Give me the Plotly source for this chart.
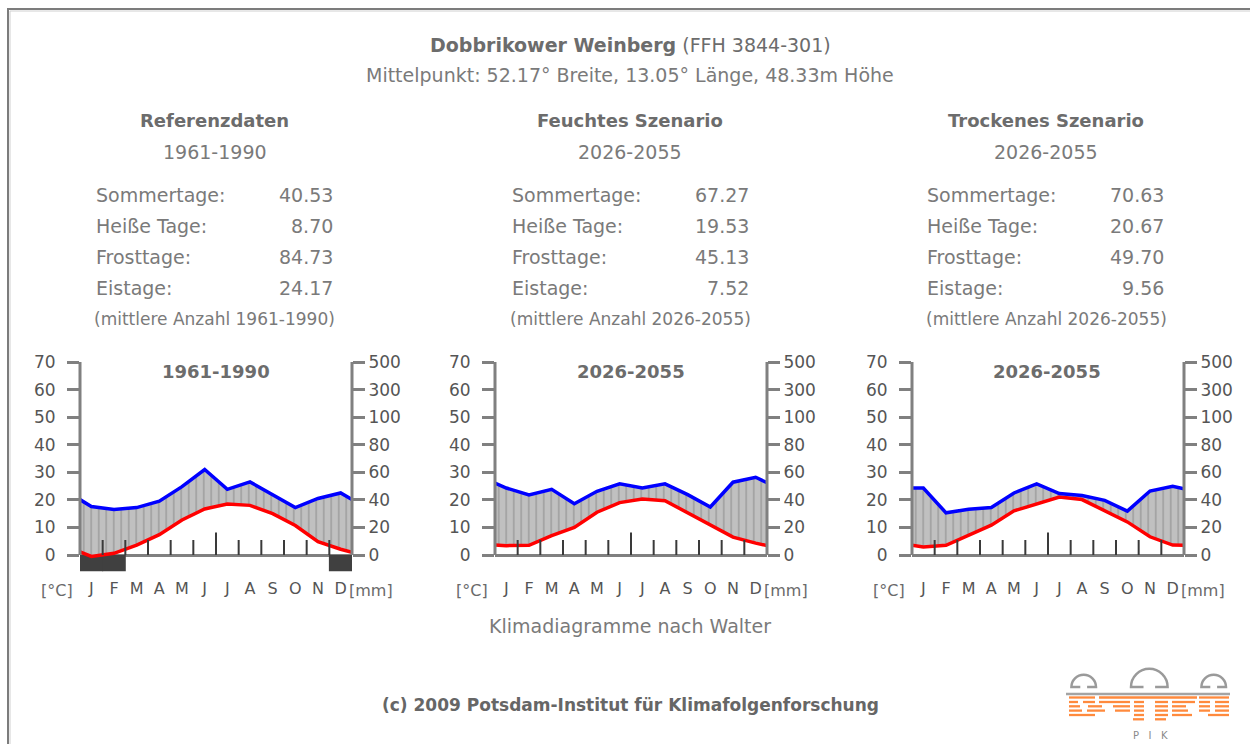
import plotly.graph_objects as go

W, H = 1250, 744
FONT = "DejaVu Sans"
GRAY_TXT = "#7a7a7a"
GRAY_BOLD = "#6c6c6c"
AXIS_GRAY = "#808080"

# ---- data -------------------------------------------------------------
MONTHS = ["J", "F", "M", "A", "M", "J", "J", "A", "S", "O", "N", "D"]
# curve points: left edge, middle of each month, right edge
X_PTS = [0, 0.5, 1.5, 2.5, 3.5, 4.5, 5.5, 6.5, 7.5, 8.5, 9.5, 10.5, 11.5, 12]

temp_ref = [1.1, -0.5, 0.6, 3.6, 7.4, 12.7, 16.7, 18.5, 18.0, 15.0, 10.7, 4.8, 2.1, 1.0]
prec_ref = [40.2, 35.2, 33.0, 34.4, 39.0, 49.6, 62.0, 47.6, 53.0, 43.8, 34.4, 41.0, 45.0, 40.2]
frost_ref = [1, 1, 0, 0, 0, 0, 0, 0, 0, 0, 0, 1]

temp_wet = [3.6, 3.4, 3.5, 7.0, 10.0, 15.5, 19.0, 20.3, 19.7, 15.2, 10.8, 6.5, 4.3, 3.4]
prec_wet = [52.2, 48.6, 43.6, 47.6, 37.2, 46.2, 51.6, 48.6, 51.6, 43.8, 34.8, 52.8, 56.4, 52.4]
frost_wet = [0] * 12

temp_dry = [3.5, 2.9, 3.5, 7.0, 10.8, 16.0, 18.6, 21.0, 20.1, 16.0, 12.0, 6.6, 3.6, 3.5]
prec_dry = [48.6, 48.6, 30.6, 33.2, 34.4, 45.0, 51.6, 44.6, 43.2, 39.6, 31.8, 46.4, 49.8, 48.0]
frost_dry = [0] * 12

stat_labels = ["Sommertage:", "Heiße Tage:", "Frosttage:", "Eistage:"]
stats_ref = ["40.53", "8.70", "84.73", "24.17"]
stats_wet = ["67.27", "19.53", "45.13", "7.52"]
stats_dry = ["70.63", "20.67", "49.70", "9.56"]

headers = ["Referenzdaten", "Feuchtes Szenario", "Trockenes Szenario"]
periods = ["1961-1990", "2026-2055", "2026-2055"]

temp_ticks = [0, 10, 20, 30, 40, 50, 60, 70]
prec_ticklabels = ["0", "20", "40", "60", "80", "100", "300", "500"]

panels = [
    (temp_ref, prec_ref, frost_ref, stats_ref),
    (temp_wet, prec_wet, frost_wet, stats_wet),
    (temp_dry, prec_dry, frost_dry, stats_dry),
]


def walter(mm):
    # Walter scale: 10 degC = 20 mm up to 100 mm, compressed above
    return mm / 2 if mm <= 100 else 50 + (mm - 100) / 20


def fx(px):
    return px / W


def fy(py):
    return 1 - py / H


# ---- layout constants (pixels) ---------------------------------------
CHART_LEFT = [80, 495, 912]
CHART_W = 272
PANEL_CX = [215, 630, 1046]
LABEL_X = [94, 510, 925]
VALUE_X = [335, 751, 1166]
Y_TOP, Y_ZERO = 362, 555
Y_MIN = -6.0
px_per_deg = (Y_ZERO - Y_TOP) / 70
Y_BOT = Y_ZERO - Y_MIN * px_per_deg

fig = go.Figure()
layout = {}
shapes = []


def ann(text, x, y, size, color=GRAY_TXT, anchor="center", bold=False):
    fig.add_annotation(x=fx(x), y=fy(y), xref="paper", yref="paper", text=f"<b>{text}</b>" if bold else text,
                       showarrow=False, xanchor=anchor, yanchor="middle",
                       font=dict(family=FONT, size=size, color=color))


for i, (temps, precs, frost, stats) in enumerate(panels):
    k = i + 1
    xa = "x" if k == 1 else f"x{k}"
    yl_n, yr_n = 2 * k - 1, 2 * k
    yl = "y" if yl_n == 1 else f"y{yl_n}"
    yr = f"y{yr_n}"

    if any(frost):
        fig.add_trace(go.Bar(x=[m + 0.5 for m in range(12)], y=[Y_MIN if f else 0 for f in frost], base=0, width=1.04,
                             marker=dict(color="#404040", line_width=0), xaxis=xa, yaxis=yl, showlegend=False, hoverinfo="skip"))
    fig.add_trace(go.Scatter(x=X_PTS, y=temps, mode="lines", line=dict(color="#ff0000", width=3.5),
                             xaxis=xa, yaxis=yl, showlegend=False, hoverinfo="skip"))
    fig.add_trace(go.Scatter(x=X_PTS, y=[walter(p) for p in precs], mode="lines", fill="tonexty",
                             fillpattern=dict(shape="|", size=7.5, solidity=0.16, fgcolor="#6a6a6a", bgcolor="#c0c0c0"),
                             line=dict(color="#0000ff", width=3.5), xaxis=xa, yaxis=yl, showlegend=False, hoverinfo="skip"))

    # month separators rising from the base line
    tx, ty = [], []
    for b in range(1, 12):
        tx += [b, b, None]
        ty += [0, 8.2 if b == 6 else 5.4, None]
    fig.add_trace(go.Scatter(x=tx, y=ty, mode="lines", line=dict(color="#3a3a3a", width=2),
                             xaxis=xa, yaxis=yl, showlegend=False, hoverinfo="skip"))
    # empty trace so the precipitation (right) axis gets drawn
    fig.add_trace(go.Scatter(x=[0], y=[0], mode="lines", opacity=0, line=dict(width=0),
                             xaxis=xa, yaxis=yr, showlegend=False, hoverinfo="skip"))

    dom_x = [fx(CHART_LEFT[i]), fx(CHART_LEFT[i] + CHART_W)]
    dom_y = [fy(Y_BOT), fy(Y_TOP)]
    layout[f"xaxis{'' if k == 1 else k}"] = dict(
        domain=dom_x, range=[0, 12], anchor=yl, tickvals=[m + 0.5 for m in range(12)], ticktext=MONTHS,
        ticks="", showgrid=False, zeroline=False, showline=False, ticklabelstandoff=5, automargin=False,
        tickfont=dict(family=FONT, size=16, color="#555555"), fixedrange=True)
    layout[f"yaxis{'' if yl_n == 1 else yl_n}"] = dict(
        domain=dom_y, range=[Y_MIN, 70], anchor=xa, tickvals=temp_ticks, ticks="outside", ticklen=12, tickwidth=2.5,
        tickcolor=AXIS_GRAY, showgrid=False, zeroline=True, zerolinecolor=AXIS_GRAY, zerolinewidth=3, showline=False,
        ticklabelstandoff=8, automargin=False, tickfont=dict(family=FONT, size=17, color="#555555"), fixedrange=True)
    layout[f"yaxis{yr_n}"] = dict(
        domain=dom_y, range=[Y_MIN, 70], anchor=xa, overlaying=yl, side="right", tickvals=temp_ticks,
        ticktext=prec_ticklabels, ticks="outside", ticklen=12, tickwidth=2.5, tickcolor=AXIS_GRAY, showgrid=False,
        zeroline=False, showline=False, ticklabelstandoff=0, automargin=False,
        tickfont=dict(family=FONT, size=17, color="#555555"), fixedrange=True)

    for xd in (0, 1):
        shapes.append(dict(type="line", xref=f"{xa} domain", yref=yl, x0=xd, x1=xd, y0=0, y1=70,
                           line=dict(color=AXIS_GRAY, width=3), layer="above"))

    # texts of the panel
    ann(headers[i], PANEL_CX[i], 121, 18, GRAY_BOLD, bold=True)
    ann(periods[i], PANEL_CX[i], 152, 19)
    for r, (lab, val) in enumerate(zip(stat_labels, stats)):
        ann(lab, LABEL_X[i], 195 + 31 * r, 19, anchor="left")
        ann(val, VALUE_X[i], 195 + 31 * r, 19, anchor="right")
    ann(f"(mittlere Anzahl {periods[i]})", PANEL_CX[i], 319, 17)
    ann(periods[i], PANEL_CX[i] + 1, 371, 18, GRAY_BOLD, bold=True)
    ann("[°C]", CHART_LEFT[i] - 23, 590, 16, "#6a6a6a")
    ann("[mm]", CHART_LEFT[i] + CHART_W + 19, 590, 16, "#6a6a6a")

ann("<b>Dobbrikower Weinberg</b> (FFH 3844-301)", 630, 45, 19, GRAY_BOLD)
ann("Mittelpunkt: 52.17° Breite, 13.05° Länge, 48.33m Höhe", 630, 75, 19)
ann("Klimadiagramme nach Walter", 630, 626, 19)
ann("(c) 2009 Potsdam-Institut für Klimafolgenforschung", 630, 705, 17, "#666666", bold=True)

# page frame
shapes.append(dict(type="rect", xref="paper", yref="paper", x0=fx(8), x1=1.05, y0=-0.05, y1=fy(9),
                   line=dict(color="#7c7c7c", width=2), layer="below"))
shapes.append(dict(type="rect", xref="paper", yref="paper", x0=fx(10), x1=1.05, y0=-0.05, y1=fy(11),
                   line=dict(color="#d0d0d0", width=1), layer="below"))


# PIK logo
def P(x, y):
    return f"{fx(x)},{fy(y)}"


def dome(cx, cy, r, gap):
    c = 0.5523 * r
    return (f"M{P(cx - gap, cy)} L{P(cx - r, cy)} C{P(cx - r, cy - c)} {P(cx - c, cy - r)} {P(cx, cy - r)} "
            f"C{P(cx + c, cy - r)} {P(cx + r, cy - c)} {P(cx + r, cy)} L{P(cx + gap, cy)}")


for cx, r, gap in [(1083.7, 12.3, 3.4), (1149.3, 18.3, 5.8), (1213.7, 12.3, 3.4)]:
    shapes.append(dict(type="path", xref="paper", yref="paper", path=dome(cx, 687, r, gap),
                       line=dict(color="#9a9a9a", width=2.5)))
shapes.append(dict(type="line", xref="paper", yref="paper", x0=fx(1066), x1=fx(1230), y0=fy(694), y1=fy(694),
                   line=dict(color="#a4a4a4", width=2.5)))
logo_rows = [
    (697.5, [(1069, 1095), (1099, 1197), (1199, 1229)]),
    (702, [(1069, 1078), (1083, 1095), (1099, 1130), (1134, 1144), (1155, 1168), (1172, 1195), (1199, 1210), (1215, 1229)]),
    (706.3, [(1069, 1080), (1088, 1102), (1113, 1130), (1134, 1144), (1155, 1168), (1172, 1186), (1199, 1210), (1215, 1229)]),
    (710.6, [(1069, 1082), (1087, 1105), (1115, 1130), (1134, 1144), (1155, 1168), (1172, 1188), (1199, 1210), (1215, 1229)]),
    (715, [(1069, 1095), (1134, 1144), (1155, 1168), (1172, 1192), (1208, 1229)]),
    (719.3, [(1133, 1144), (1155, 1166)]),
]
for ly, segs in logo_rows:
    for a, b in segs:
        shapes.append(dict(type="line", xref="paper", yref="paper", x0=fx(a), x1=fx(b), y0=fy(ly), y1=fy(ly),
                           line=dict(color="#ff8a3d", width=2.3)))
ann("P &nbsp; I &nbsp; K", 1150, 735, 10, "#8a8a8a")

fig.update_layout(**layout)
fig.update_layout(width=W, height=H, margin=dict(l=0, r=0, t=0, b=0, autoexpand=False), paper_bgcolor="white",
                  plot_bgcolor="rgba(0,0,0,0)", shapes=shapes, hovermode=False, dragmode=False, barmode="overlay")
fig.write_html("out.html", config={"displayModeBar": False},
               post_script="document.body.style.margin='0';document.body.style.overflow='hidden';")
